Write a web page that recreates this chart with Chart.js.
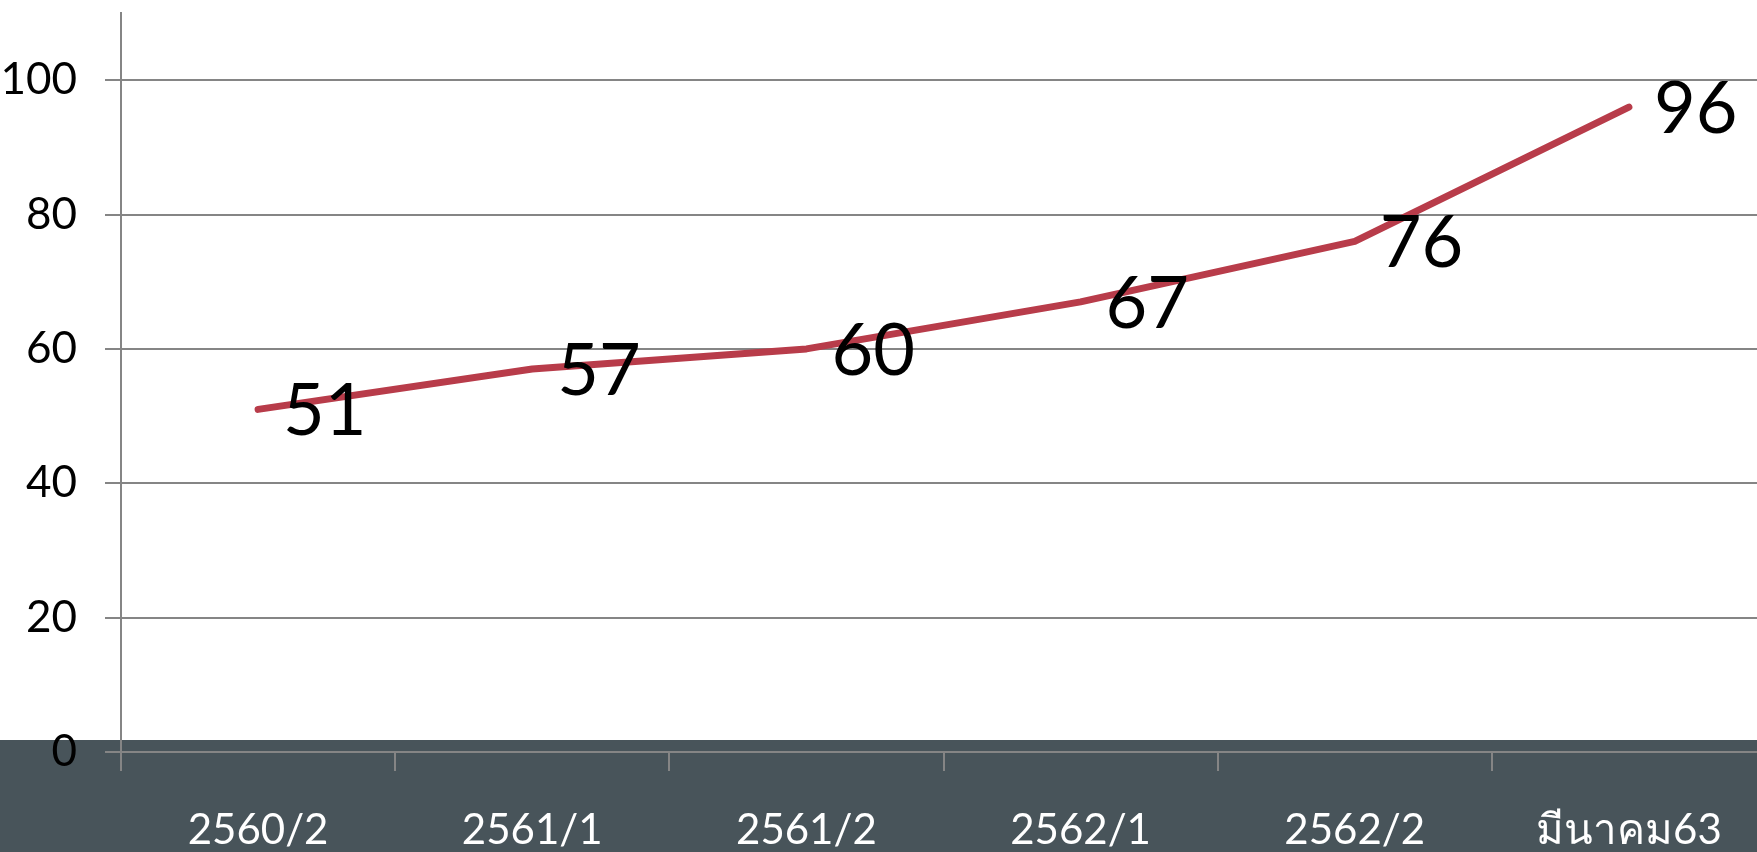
<!DOCTYPE html>
<html>
<head>
<meta charset="utf-8">
<script src="https://cdn.jsdelivr.net/npm/chart.js@4/dist/chart.umd.min.js"></script>
<style>
  html, body { margin: 0; padding: 0; overflow: hidden; background: #fff; }
  #wrap { width: 1766px; height: 852px; }
</style>
</head>
<body>
<div id="wrap"><canvas id="line-chart" width="1766" height="852"></canvas></div>
<script>
const categories = ["2560/2", "2561/1", "2561/2", "2562/1", "2562/2", "มีนาคม63"];
const values = [51, 57, 60, 67, 76, 96];
const yTicks = [0, 20, 40, 60, 80, 100];

const FONT = "Lato, 'Noto Sans', sans-serif";
const GRID = "#858585";

// dark band behind the category labels
const band = {
  id: "band",
  beforeDraw(chart) {
    const { ctx, chartArea } = chart;
    ctx.save();
    ctx.fillStyle = "#48545a";
    ctx.fillRect(0, chartArea.bottom - 12, chart.width, chart.height);
    ctx.restore();
  }
};

// big value labels to the right of each point
const valueLabels = {
  id: "valueLabels",
  afterDatasetsDraw(chart) {
    const { ctx } = chart;
    const meta = chart.getDatasetMeta(0);
    ctx.save();
    ctx.font = "72px " + FONT;
    ctx.fillStyle = "#000";
    ctx.textAlign = "left";
    ctx.textBaseline = "alphabetic";
    meta.data.forEach((pt, i) => {
      ctx.fillText(String(values[i]), pt.x + 25, pt.y + 26);
    });
    ctx.restore();
  }
};

new Chart("line-chart", {
  type: "line",
  data: {
    labels: categories,
    datasets: [{
      data: values,
      borderColor: "#b83c4a",
      borderWidth: 7,
      borderCapStyle: "round",
      borderJoinStyle: "round",
      pointRadius: 0,
      tension: 0,
      fill: false
    }]
  },
  options: {
    responsive: false,
    animation: false,
    devicePixelRatio: 1,
    layout: { padding: { top: 13, left: 0, right: 0, bottom: 0 } },
    plugins: {
      legend: { display: false },
      tooltip: { enabled: false }
    },
    scales: {
      x: {
        offset: true,
        grid: {
          offset: true,
          drawOnChartArea: false,
          drawTicks: true,
          tickLength: 19,
          color: GRID,
          lineWidth: 2
        },
        border: { display: true, color: GRID, width: 2 },
        ticks: {
          color: "#fff",
          font: { family: FONT, size: 42 },
          padding: 34,
          maxRotation: 0,
          autoSkip: false
        },
        afterFit(scale) {
          scale.height = 100;
          scale.paddingLeft = 0;
          scale.paddingRight = 0;
        }
      },
      y: {
        min: 0,
        max: 110,
        afterBuildTicks(scale) {
          scale.ticks = yTicks.map(v => ({ value: v }));
        },
        grid: {
          color: GRID,
          lineWidth: 2,
          drawTicks: true,
          tickLength: 16
        },
        border: { display: true, color: GRID, width: 2 },
        ticks: {
          color: "#000",
          font: { family: FONT, size: 44 },
          padding: 28
        },
        afterFit(scale) {
          scale.width = 121;
          scale.paddingTop = 0;
          scale.paddingBottom = 0;
        }
      }
    }
  },
  plugins: [band, valueLabels]
});
</script>
</body>
</html>
